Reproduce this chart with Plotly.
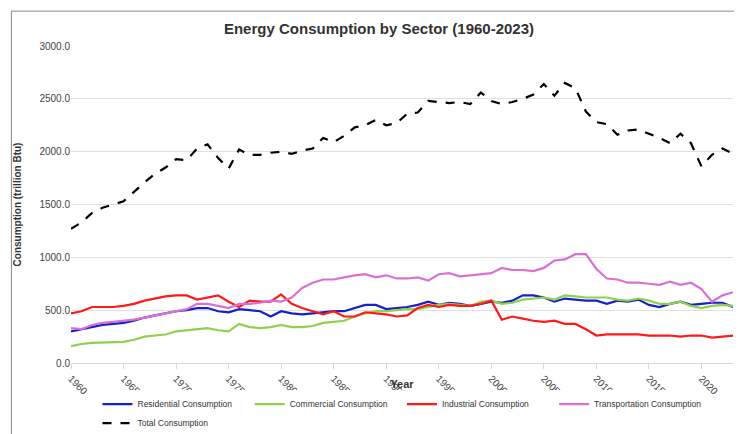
import plotly.graph_objects as go

years = list(range(1960, 2024))

residential = [300, 320, 340, 360, 370, 380, 400, 430, 450, 470, 490, 500, 520, 520, 490, 480,
               510, 500, 490, 440, 490, 470, 460, 470, 480, 490, 490, 520, 550, 550, 510, 520,
               530, 550, 580, 550, 570, 560, 540, 560, 580, 570, 590, 640, 640, 620, 580, 610,
               600, 590, 590, 560, 590, 580, 600, 550, 530, 560, 580, 550, 560, 570, 570, 530]
commercial = [160, 180, 190, 195, 200, 200, 220, 250, 260, 270, 300, 310, 320, 330, 310, 300,
              370, 340, 330, 340, 360, 340, 340, 350, 380, 390, 400, 440, 470, 490, 490, 500,
              510, 510, 530, 550, 560, 550, 540, 580, 590, 560, 570, 600, 610, 620, 600, 640,
              630, 620, 620, 620, 600, 590, 610, 590, 560, 560, 580, 540, 520, 540, 550, 540]
industrial = [470, 490, 530, 530, 530, 540, 560, 590, 610, 630, 640, 640, 600, 620, 640, 580,
              530, 590, 580, 580, 650, 560, 520, 490, 460, 490, 440, 440, 480, 470, 460, 440,
              450, 520, 550, 530, 550, 540, 540, 560, 590, 410, 440, 420, 400, 390, 400, 370,
              370, 320, 260, 270, 270, 270, 270, 260, 260, 260, 250, 260, 260, 240, 250, 260]
transportation = [330, 320, 360, 380, 390, 400, 410, 430, 450, 470, 490, 510, 560, 560, 540, 520,
                  560, 560, 570, 590, 580, 620, 710, 760, 790, 790, 810, 830, 840, 810, 830, 800,
                  800, 810, 780, 840, 850, 820, 830, 840, 850, 900, 880, 880, 870, 900, 970, 980,
                  1030, 1030, 890, 800, 790, 760, 760, 750, 740, 770, 740, 760, 700, 580, 640, 670]
total = [1270, 1330, 1420, 1470, 1500, 1530, 1620, 1710, 1790, 1850, 1930, 1920, 2030, 2070, 1940, 1840,
         2020, 1970, 1970, 1990, 2000, 1980, 2010, 2030, 2130, 2090, 2150, 2230, 2250, 2300, 2250, 2270,
         2360, 2370, 2480, 2470, 2460, 2470, 2450, 2560, 2480, 2450, 2470, 2500, 2540, 2640, 2530, 2650,
         2600, 2380, 2280, 2260, 2160, 2200, 2210, 2170, 2130, 2080, 2170, 2080, 1860, 1970, 2030, 1980]

series = [("Residential Consumption", residential, "#1520c8", "solid"),
          ("Commercial Consumption", commercial, "#8fd14f", "solid"),
          ("Industrial Consumption", industrial, "#ff1a1a", "solid"),
          ("Transportation Consumption", transportation, "#da70d6", "solid"),
          ("Total Consumption", total, "#000000", "dash")]

fig = go.Figure()
for name, vals, col, dash in series:
    fig.add_trace(go.Scatter(x=years, y=vals, name=name, mode="lines",
                             line=dict(color=col, width=2.2, dash=dash)))

fig.update_layout(
    width=742, height=434, paper_bgcolor="white", plot_bgcolor="white",
    font=dict(family="Liberation Sans, Arial", size=10, color="#444"),
    title=dict(text="<b>Energy Consumption by Sector (1960-2023)</b>", x=0.5, y=0.965,
               font=dict(size=15, color="#333")),
    margin=dict(l=63, r=17, t=38, b=79, autoexpand=False),
    legend=dict(orientation="h", x=0.5, xanchor="center", yref="container", y=0.01,
                yanchor="bottom", font=dict(size=8.5, color="#333"), itemwidth=30,
                tracegroupgap=0, entrywidth=0),
    xaxis=dict(title=dict(text="<b>Year</b>", font=dict(size=11, color="#333"), standoff=4),
               tickmode="linear", tick0=1960, dtick=5, tickangle=45, range=[1960, 2023],
               showgrid=False, showline=True, linecolor="#d9d9d9", ticks="outside",
               tickcolor="#d9d9d9", automargin=False),
    yaxis=dict(title=dict(text="<b>Consumption (trillion Btu)</b>", font=dict(size=10, color="#333")),
               range=[0, 3000], dtick=500, tickformat=".1f", gridcolor="#e0e0e0",
               zeroline=False, automargin=False),
    shapes=[dict(type="rect", xref="paper", yref="paper", x0=-0.09, x1=1.02, y0=-0.237, y1=1.11,
                 line=dict(color="#888", width=1))],
)

fig.write_html("out.html")
